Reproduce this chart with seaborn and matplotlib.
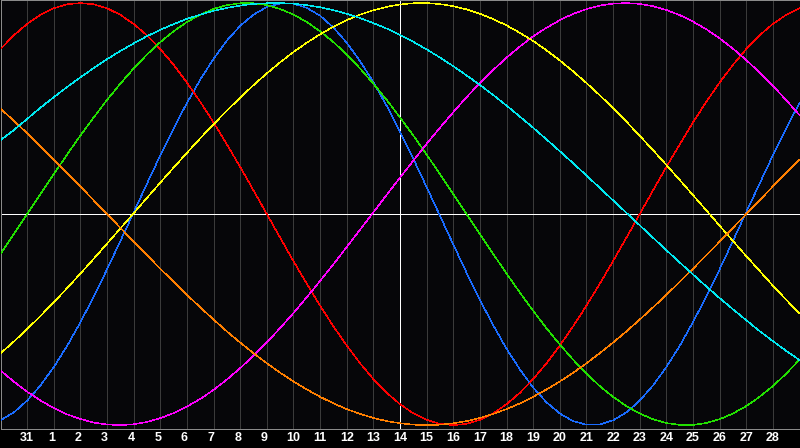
import matplotlib
matplotlib.use("Agg")
from matplotlib import pyplot as plt
from matplotlib.transforms import ScaledTranslation
import pandas as pd
import seaborn as sns

# day labels along the bottom, first and last are the chart edges
day_labels = ["30", "31"] + [str(i) for i in range(1, 30)]

# cycle values in percent, every half day
blue = [-97.7, -94.0, -88.4, -81.2, -72.5, -62.5, -51.3, -39.1, -26.2, -12.8, 0.8,
        14.4, 27.8, 40.6, 52.7, 63.7, 73.6, 82.2, 89.2, 94.5, 98.1,
        99.8, 99.7, 97.7, 94.0, 88.4, 81.2, 72.5, 62.5, 51.3, 39.1,
        26.2, 12.8, -0.8, -14.4, -27.8, -40.6, -52.7, -63.8, -73.6, -82.2,
        -89.2, -94.5, -98.1, -99.8, -99.7, -97.7, -94.0, -88.4, -81.2, -72.5,
        -62.5, -51.2, -39.1, -26.2, -12.8, 0.9, 14.4, 27.8, 40.6, 52.7]
red = [78.2, 84.7, 90.1, 94.4, 97.5, 99.4, 100.0, 99.4, 97.5, 94.4, 90.1,
       84.7, 78.2, 70.7, 62.3, 53.2, 43.4, 33.0, 22.3, 11.2, 0.0,
       -11.2, -22.3, -33.0, -43.4, -53.2, -62.3, -70.7, -78.2, -84.7, -90.1,
       -94.4, -97.5, -99.4, -100.0, -99.4, -97.5, -94.4, -90.1, -84.7, -78.2,
       -70.7, -62.3, -53.2, -43.4, -33.0, -22.3, -11.2, 0.0, 11.2, 22.3,
       33.0, 43.4, 53.2, 62.3, 70.7, 78.2, 84.7, 90.1, 94.4, 97.5]
green = [-18.9, -9.5, 0.0, 9.5, 18.9, 28.2, 37.2, 45.8, 54.1, 61.8, 69.0,
         75.6, 81.5, 86.6, 91.0, 94.5, 97.2, 99.0, 99.9, 99.9, 99.0,
         97.2, 94.5, 91.0, 86.6, 81.5, 75.6, 69.0, 61.8, 54.1, 45.8,
         37.2, 28.2, 18.9, 9.5, 0.0, -9.5, -18.9, -28.2, -37.2, -45.8,
         -54.1, -61.8, -69.0, -75.6, -81.5, -86.6, -91.0, -94.5, -97.2, -99.0,
         -99.9, -99.9, -99.0, -97.2, -94.5, -91.0, -86.6, -81.5, -75.6, -69.0]
magenta = [-74.1, -79.4, -84.2, -88.3, -91.9, -94.9, -97.1, -98.8, -99.7, -100.0, -99.6,
           -98.5, -96.7, -94.3, -91.2, -87.6, -83.3, -78.4, -73.0, -67.1, -60.8,
           -54.0, -46.9, -39.4, -31.7, -23.8, -15.6, -7.4, 0.8, 9.1, 17.3,
           25.3, 33.3, 40.9, 48.3, 55.4, 62.1, 68.3, 74.1, 79.4, 84.2,
           88.3, 91.9, 94.9, 97.1, 98.8, 99.7, 100.0, 99.6, 98.5, 96.7,
           94.3, 91.2, 87.6, 83.3, 78.4, 73.0, 67.1, 60.8, 54.0, 46.9]
yellow = [-66.0, -60.4, -54.5, -48.3, -41.8, -35.1, -28.2, -21.2, -14.0, -6.8, 0.4,
          7.7, 14.9, 22.0, 29.0, 35.9, 42.6, 49.0, 55.2, 61.1, 66.7,
          71.9, 76.8, 81.2, 85.2, 88.8, 91.9, 94.5, 96.6, 98.2, 99.3,
          99.9, 100.0, 99.5, 98.5, 97.0, 94.9, 92.4, 89.4, 85.9, 82.0,
          77.6, 72.8, 67.6, 62.1, 56.3, 50.2, 43.8, 37.1, 30.3, 23.3,
          16.2, 9.0, 1.8, -5.5, -12.7, -19.9, -26.9, -33.9, -40.6, -47.1]
orange = [50.0, 44.2, 38.3, 32.1, 25.9, 19.5, 13.1, 6.5, 0.0, -6.5, -13.1,
          -19.5, -25.9, -32.1, -38.3, -44.2, -50.0, -55.6, -60.9, -65.9, -70.7,
          -75.2, -79.3, -83.1, -86.6, -89.7, -92.4, -94.7, -96.6, -98.1, -99.1,
          -99.8, -100.0, -99.8, -99.1, -98.1, -96.6, -94.7, -92.4, -89.7, -86.6,
          -83.1, -79.3, -75.2, -70.7, -65.9, -60.9, -55.6, -50.0, -44.2, -38.3,
          -32.1, -25.9, -19.5, -13.1, -6.5, 0.0, 6.5, 13.1, 19.5, 25.9]
cyan = [35.0, 39.8, 45.1, 50.4, 55.4, 60.2, 64.8, 69.2, 73.4, 77.3, 80.9,
        84.3, 87.3, 90.0, 92.5, 94.5, 96.3, 97.7, 98.8, 99.6, 99.9,
        100.0, 99.7, 99.0, 98.0, 96.6, 94.9, 92.9, 90.5, 87.9, 84.9,
        81.6, 78.0, 74.2, 70.1, 65.7, 61.2, 56.4, 51.4, 46.2, 40.9,
        35.4, 29.8, 24.1, 18.3, 12.4, 6.5, 0.6, -5.3, -11.2, -17.1,
        -22.9, -28.6, -34.3, -39.8, -45.1, -50.3, -55.4, -60.2, -64.8, -69.2]

series = {
    "blue": blue,
    "red": red,
    "green": green,
    "magenta": magenta,
    "yellow": yellow,
    "orange": orange,
    "cyan": cyan,
}
palette = {
    "blue": "#1a6cff",
    "red": "#ff0000",
    "green": "#22e000",
    "magenta": "#ff00ff",
    "yellow": "#ffff00",
    "orange": "#ff7f00",
    "cyan": "#00e8f0",
}


def build_df():
    rows = []
    for name, vals in series.items():
        for i, v in enumerate(vals):
            rows.append({"day": i / 2, "value": v, "cycle": name})
    return pd.DataFrame(rows)


def main():
    df = build_df()
    px = 1 / 100 * 72  # one pixel in points

    fig = plt.figure(figsize=(8, 4.48), dpi=100, facecolor="#000000")
    ax = fig.add_axes([0.5 / 800, 19.5 / 448, 799 / 800, 428 / 448])
    ax.set_facecolor("#060609")

    # faint day grid, then the white centre cross
    n = len(day_labels)
    ticks = list(range(1, n - 1))
    for t in ticks:
        ax.axvline(t, color="#3a3a3a", lw=px, zorder=1, antialiased=False)
    ax.axhline(0, color="#ffffff", lw=px, zorder=2, antialiased=False)
    ax.axvline((n - 1) / 2, color="#ffffff", lw=px, zorder=2, antialiased=False)

    sns.lineplot(data=df, x="day", y="value", hue="cycle", palette=palette,
                 hue_order=list(series.keys()), legend=False, ax=ax, zorder=3)
    # thin, hard-edged strokes like the original
    for ln in ax.lines[-len(series):]:
        ln.set_antialiased(False)
        ln.set_linewidth(px * 0.5)

    ax.set_xlim(0, n - 1)
    ax.set_ylim(-101.6, 101.2)
    ax.set_xticks([])
    ax.set_yticks([])
    ax.set_xlabel("")
    ax.set_ylabel("")

    # day numbers under the grid lines, single digits sit a bit left
    for t in ticks:
        lab = day_labels[t]
        dx = -2.5 if len(lab) == 1 else 0
        tr = ax.get_xaxis_transform() + ScaledTranslation(dx / 100, 0, fig.dpi_scale_trans)
        ax.text(t, -0.0225, lab, transform=tr, ha="center", va="center",
                color="#ffffff", fontsize=9, fontweight="bold",
                family="Liberation Sans")

    for sp in ax.spines.values():
        sp.set_color("#8a8a8a")
        sp.set_linewidth(px)

    fig.savefig("out.png", dpi=100, facecolor=fig.get_facecolor())


if __name__ == "__main__":
    main()
